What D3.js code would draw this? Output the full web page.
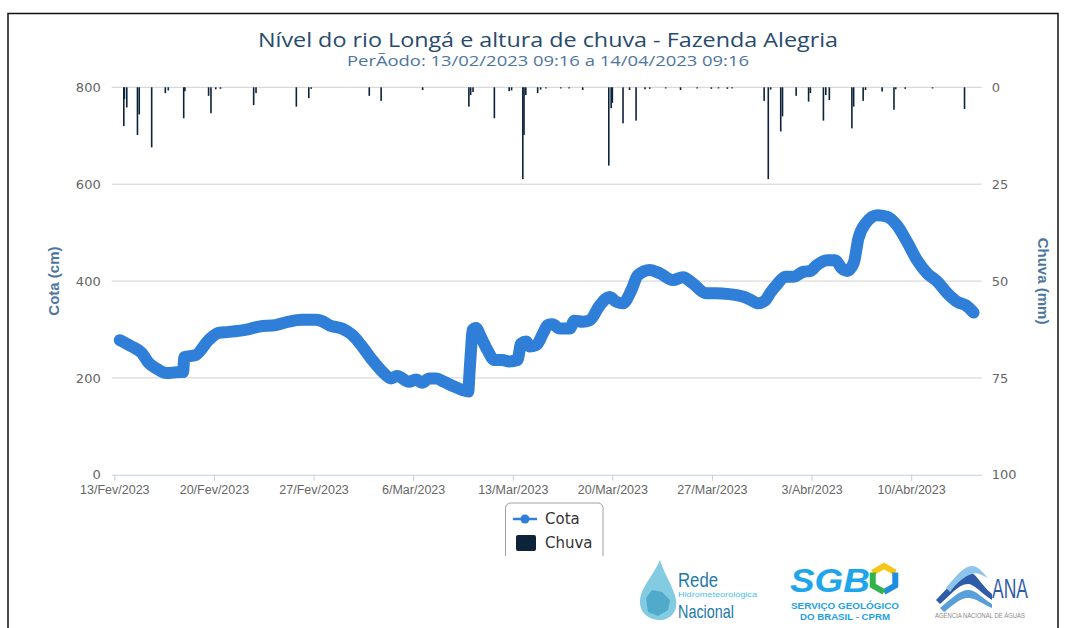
<!DOCTYPE html>
<html>
<head>
<meta charset="utf-8">
<script src="https://cdn.jsdelivr.net/npm/d3@7"></script>
<style>
  body { margin: 0; background: #fff; }
  svg { display: block; }
</style>
</head>
<body>
<div id="chart"></div>
<script>
// ---- data ----
const TITLE = "Nível do rio Longá e altura de chuva - Fazenda Alegria";
const SUBTITLE = "PerÃodo: 13/02/2023 09:16 a 14/04/2023 09:16";
const PERIOD = ["2023-02-13 09:16", "2023-04-14 09:16"];

// river level (cm)
const cotaData = [
  ["2023-02-13 09:16", 278], ["2023-02-14 05:00", 265], ["2023-02-14 22:00", 252],
  ["2023-02-15 10:00", 231], ["2023-02-15 21:00", 221], ["2023-02-16 16:00", 210],
  ["2023-02-17 14:00", 212], ["2023-02-17 20:00", 212], ["2023-02-17 22:00", 243],
  ["2023-02-18 17:00", 247], ["2023-02-19 15:00", 278], ["2023-02-20 08:00", 293],
  ["2023-02-21 01:00", 295], ["2023-02-22 11:00", 301], ["2023-02-23 04:00", 306],
  ["2023-02-24 08:00", 309], ["2023-02-25 06:00", 316], ["2023-02-26 04:00", 320],
  ["2023-02-27 04:00", 320], ["2023-02-27 21:00", 313], ["2023-02-28 02:00", 309],
  ["2023-03-01 00:00", 302], ["2023-03-01 17:00", 289], ["2023-03-02 10:00", 265],
  ["2023-03-03 03:00", 237], ["2023-03-03 20:00", 213], ["2023-03-04 11:00", 199],
  ["2023-03-04 21:00", 204], ["2023-03-05 17:00", 192], ["2023-03-06 05:00", 197],
  ["2023-03-06 15:00", 190], ["2023-03-07 03:00", 199], ["2023-03-07 15:00", 199],
  ["2023-03-08 04:00", 192], ["2023-03-08 18:00", 184], ["2023-03-09 11:00", 175],
  ["2023-03-09 21:00", 172], ["2023-03-09 23:00", 210], ["2023-03-10 02:00", 265],
  ["2023-03-10 04:00", 299], ["2023-03-10 10:00", 303], ["2023-03-10 18:00", 285],
  ["2023-03-11 05:00", 258], ["2023-03-11 17:00", 237], ["2023-03-12 06:00", 237],
  ["2023-03-12 18:00", 234], ["2023-03-13 08:00", 237], ["2023-03-13 14:00", 271],
  ["2023-03-13 23:00", 275], ["2023-03-14 04:00", 265], ["2023-03-14 16:00", 268],
  ["2023-03-15 03:00", 292], ["2023-03-15 11:00", 309], ["2023-03-15 19:00", 311],
  ["2023-03-16 07:00", 302], ["2023-03-17 00:00", 302], ["2023-03-17 08:00", 318],
  ["2023-03-17 22:00", 316], ["2023-03-18 10:00", 319], ["2023-03-19 03:00", 350],
  ["2023-03-19 19:00", 367], ["2023-03-20 07:00", 357], ["2023-03-20 18:00", 354],
  ["2023-03-21 08:00", 381], ["2023-03-21 19:00", 412], ["2023-03-22 15:00", 423],
  ["2023-03-23 08:00", 416], ["2023-03-24 06:00", 402], ["2023-03-24 23:00", 408],
  ["2023-03-25 16:00", 395], ["2023-03-26 14:00", 375], ["2023-03-27 07:00", 375],
  ["2023-03-28 05:00", 373], ["2023-03-29 04:00", 368], ["2023-03-29 16:00", 362],
  ["2023-03-30 06:00", 354], ["2023-03-30 18:00", 360], ["2023-03-31 02:00", 375],
  ["2023-03-31 13:00", 392], ["2023-04-01 04:00", 409], ["2023-04-01 17:00", 409],
  ["2023-04-02 10:00", 419], ["2023-04-02 22:00", 421], ["2023-04-03 09:00", 433],
  ["2023-04-04 02:00", 443], ["2023-04-04 16:00", 443], ["2023-04-05 03:00", 426],
  ["2023-04-05 12:00", 421], ["2023-04-05 23:00", 437], ["2023-04-06 07:00", 488],
  ["2023-04-06 19:00", 519], ["2023-04-07 15:00", 536], ["2023-04-08 07:00", 533],
  ["2023-04-09 00:00", 515], ["2023-04-09 17:00", 481], ["2023-04-10 10:00", 443],
  ["2023-04-11 03:00", 416], ["2023-04-11 20:00", 399], ["2023-04-12 13:00", 375],
  ["2023-04-13 06:00", 357], ["2023-04-13 20:00", 350], ["2023-04-14 09:16", 335],
];

// hourly rain (mm), only the hours that had some
const chuvaData = [
  ["2023-02-13 16:00", 10], ["2023-02-13 17:00", 3], ["2023-02-13 21:00", 5.2],
  ["2023-02-14 15:00", 12.3], ["2023-02-14 18:00", 7], ["2023-02-15 15:00", 15.5],
  ["2023-02-16 14:00", 1.5], ["2023-02-16 19:00", 0.8], ["2023-02-17 21:00", 8],
  ["2023-02-17 23:00", 1], ["2023-02-19 15:00", 2.2], ["2023-02-19 19:00", 6.7],
  ["2023-02-20 03:00", 0.5], ["2023-02-20 11:00", 0.4], ["2023-02-22 19:00", 4.6],
  ["2023-02-22 23:00", 1.5], ["2023-02-25 19:00", 5], ["2023-02-26 16:00", 2.8],
  ["2023-02-26 20:00", 0.4], ["2023-03-02 22:00", 2.2], ["2023-03-03 18:00", 3.5],
  ["2023-03-06 16:00", 0.7], ["2023-03-09 22:00", 5], ["2023-03-10 01:00", 2],
  ["2023-03-10 05:00", 1.2], ["2023-03-11 17:00", 8], ["2023-03-12 18:00", 1],
  ["2023-03-12 22:00", 0.8], ["2023-03-13 17:00", 23.7], ["2023-03-13 19:00", 12.3],
  ["2023-03-13 22:00", 2], ["2023-03-14 18:00", 1.5], ["2023-03-14 23:00", 0.6],
  ["2023-03-15 08:00", 0.3], ["2023-03-16 09:00", 0.3], ["2023-03-16 23:00", 0.3],
  ["2023-03-17 22:00", 0.7], ["2023-03-19 18:00", 20.2], ["2023-03-19 22:00", 5.4],
  ["2023-03-20 00:00", 4], ["2023-03-20 18:00", 9.3], ["2023-03-21 05:00", 0.7],
  ["2023-03-21 16:00", 8.6], ["2023-03-22 07:00", 0.5], ["2023-03-22 15:00", 0.4],
  ["2023-03-23 18:00", 0.3], ["2023-03-24 19:00", 0.7], ["2023-03-25 23:00", 0.3],
  ["2023-03-26 23:00", 0.4], ["2023-03-27 11:00", 0.3], ["2023-03-28 02:00", 0.4],
  ["2023-03-28 10:00", 0.3], ["2023-03-30 16:00", 3.5], ["2023-03-30 23:00", 23.7],
  ["2023-03-31 03:00", 0.6], ["2023-03-31 20:00", 11.4], ["2023-03-31 23:00", 7.5],
  ["2023-04-01 22:00", 2.2], ["2023-04-02 19:00", 3.7], ["2023-04-02 22:00", 1.5],
  ["2023-04-03 20:00", 8.6], ["2023-04-04 00:00", 2], ["2023-04-04 06:00", 3.3],
  ["2023-04-05 20:00", 10.6], ["2023-04-05 23:00", 5], ["2023-04-06 15:00", 3.5],
  ["2023-04-06 19:00", 0.7], ["2023-04-07 23:00", 1.1], ["2023-04-08 19:00", 5.8],
  ["2023-04-08 22:00", 0.5], ["2023-04-09 14:00", 0.4], ["2023-04-11 12:00", 0.3],
  ["2023-04-13 18:00", 5.6],
];

const xTickDates = ["2023-02-13", "2023-02-20", "2023-02-27", "2023-03-06", "2023-03-13",
                    "2023-03-20", "2023-03-27", "2023-04-03", "2023-04-10"];
const xTickLabels = ["13/Fev/2023", "20/Fev/2023", "27/Fev/2023", "6/Mar/2023", "13/Mar/2023",
                     "20/Mar/2023", "27/Mar/2023", "3/Abr/2023", "10/Abr/2023"];
const cotaTicks = [0, 200, 400, 600, 800];
const chuvaTicks = [0, 25, 50, 75, 100];

const COLOR = {
  cota: "#2f7ed8",
  chuva: "#0d233a",
  title: "#274b6d",
  subtitle: "#4d759e",
  axisTitle: "#4d759e",
  label: "#666",
  grid: "#d0d0d0",
  axisLine: "#c0d0e0",
};

// ---- layout ----
const width = 1067, height = 628;
const plot = { left: 111.7, right: 981.7, top: 87.3, bottom: 474.8 };

const parse = d3.timeParse("%Y-%m-%d %H:%M");
const parseDay = d3.timeParse("%Y-%m-%d");
const PAD = 13.7 * 3600 * 1000; // column padding on both ends of the period

const x = d3.scaleTime()
  .domain([+parse(PERIOD[0]) - PAD, +parse(PERIOD[1]) + PAD])
  .range([plot.left, plot.right]);
const yCota = d3.scaleLinear().domain([0, 800]).range([plot.bottom, plot.top]);
const yChuva = d3.scaleLinear().domain([0, 100]).range([plot.top, plot.bottom]); // reversed

const svg = d3.select("#chart").append("svg")
  .attr("width", width).attr("height", height)
  .attr("viewBox", `0 0 ${width} ${height}`);

// outer frame
svg.append("path")
  .attr("d", "M8,640 V13.5 H1058 V640")
  .attr("fill", "none").attr("stroke", "#111").attr("stroke-width", 1.5);

// ---- title ----
svg.append("text")
  .attr("x", 548).attr("y", 47)
  .attr("text-anchor", "middle")
  .attr("font-family", "Open Sans, sans-serif").attr("font-size", 20)
  .attr("textLength", 580).attr("lengthAdjust", "spacingAndGlyphs")
  .attr("fill", COLOR.title)
  .text(TITLE);
svg.append("text")
  .attr("x", 548).attr("y", 66)
  .attr("text-anchor", "middle")
  .attr("font-family", "Open Sans, sans-serif").attr("font-size", 14)
  .attr("textLength", 402).attr("lengthAdjust", "spacingAndGlyphs")
  .attr("fill", COLOR.subtitle)
  .text(SUBTITLE);

// ---- grid + axes ----
svg.append("g")
  .selectAll("line")
  .data(cotaTicks.filter((t) => t > 0))
  .join("line")
  .attr("x1", plot.left).attr("x2", plot.right)
  .attr("y1", (t) => yCota(t)).attr("y2", (t) => yCota(t))
  .attr("stroke", COLOR.grid).attr("stroke-width", 1);

const xAxis = svg.append("g")
  .attr("transform", `translate(0,${plot.bottom})`)
  .call(d3.axisBottom(x)
    .tickValues(xTickDates.map(parseDay))
    .tickFormat((d, i) => xTickLabels[i])
    .tickSizeInner(6).tickSizeOuter(0).tickPadding(4));
xAxis.select(".domain").attr("stroke", COLOR.axisLine);
xAxis.selectAll(".tick line").attr("stroke", COLOR.axisLine);
xAxis.selectAll(".tick text")
  .attr("fill", COLOR.label)
  .attr("font-family", "Liberation Sans, Arial, sans-serif")
  .attr("font-size", 12.5);

const yLeft = svg.append("g")
  .attr("transform", `translate(${plot.left},0)`)
  .call(d3.axisLeft(yCota).tickValues(cotaTicks).tickSize(0).tickPadding(11));
yLeft.select(".domain").remove();
yLeft.selectAll(".tick text")
  .attr("fill", COLOR.label)
  .attr("font-family", "DejaVu Sans, Verdana, sans-serif")
  .attr("font-size", 13);

const yRight = svg.append("g")
  .attr("transform", `translate(${plot.right},0)`)
  .call(d3.axisRight(yChuva).tickValues(chuvaTicks).tickSize(0).tickPadding(10));
yRight.select(".domain").remove();
yRight.selectAll(".tick text")
  .attr("fill", COLOR.label)
  .attr("font-family", "DejaVu Sans, Verdana, sans-serif")
  .attr("font-size", 13);

svg.append("text")
  .attr("transform", `translate(59,${(plot.top + plot.bottom) / 2}) rotate(-90)`)
  .attr("text-anchor", "middle")
  .attr("font-family", "Liberation Sans, Arial, sans-serif")
  .attr("font-size", 15).attr("font-weight", 700)
  .attr("fill", COLOR.axisTitle)
  .text("Cota (cm)");
svg.append("text")
  .attr("transform", `translate(1038,${(plot.top + plot.bottom) / 2}) rotate(90)`)
  .attr("text-anchor", "middle")
  .attr("font-family", "Liberation Sans, Arial, sans-serif")
  .attr("font-size", 15).attr("font-weight", 700)
  .attr("fill", COLOR.axisTitle)
  .text("Chuva (mm)");

// ---- rain columns, hanging from the top ----
svg.append("g")
  .selectAll("rect")
  .data(chuvaData)
  .join("rect")
  .attr("x", (d) => x(parse(d[0])) - 0.8)
  .attr("width", 1.6)
  .attr("y", yChuva(0))
  .attr("height", (d) => Math.max(1, yChuva(d[1]) - yChuva(0)))
  .attr("fill", COLOR.chuva);

// ---- river level: dense markers drawn as one thick band ----
const line = d3.line()
  .x((d) => x(parse(d[0])))
  .y((d) => yCota(d[1]))
  .curve(d3.curveMonotoneX);
svg.append("path")
  .datum(cotaData)
  .attr("d", line)
  .attr("fill", "none")
  .attr("stroke", COLOR.cota)
  .attr("stroke-width", 12)
  .attr("stroke-linecap", "round")
  .attr("stroke-linejoin", "round");

// ---- legend ----
const lg = svg.append("g");
lg.append("path")
  .attr("d", "M505.5,556 V508 a5,5 0 0 1 5,-5 H598 a5,5 0 0 1 5,5 V556")
  .attr("fill", "none").attr("stroke", "#a0a0a0").attr("stroke-width", 1);
lg.append("line")
  .attr("x1", 513).attr("x2", 537).attr("y1", 519).attr("y2", 519)
  .attr("stroke", COLOR.cota).attr("stroke-width", 2.5);
lg.append("circle").attr("cx", 525).attr("cy", 519).attr("r", 4.5).attr("fill", COLOR.cota);
lg.append("rect")
  .attr("x", 516).attr("y", 535).attr("width", 20).attr("height", 16).attr("rx", 2)
  .attr("fill", COLOR.chuva);
lg.selectAll("text.item")
  .data(["Cota", "Chuva"])
  .join("text")
  .attr("x", 545).attr("y", (d, i) => 524 + i * 24)
  .attr("font-family", "DejaVu Sans, Verdana, sans-serif")
  .attr("font-size", 15)
  .attr("fill", "#333")
  .text((d) => d);

// ---- institutional logos (simplified) ----
const logos = svg.append("g");

// Rede Hidrometeorológica Nacional
logos.append("path")
  .attr("d", "M660,560 C652,578 640,588 640,602 C640,614 650,620 660,620 C670,620 678,612 676,600 C674,588 666,578 660,560 Z")
  .attr("fill", "#6cc2dc").attr("opacity", 0.85);
logos.append("path")
  .attr("d", "M646,598 L652,590 L662,592 L670,600 L668,610 L658,616 L648,612 Z")
  .attr("fill", "#3a9bbf").attr("opacity", 0.7);
logos.append("text").attr("x", 678).attr("y", 587)
  .attr("font-family", "Liberation Sans, Arial, sans-serif").attr("font-size", 20)
  .attr("textLength", 40).attr("lengthAdjust", "spacingAndGlyphs")
  .attr("fill", "#2379a8").text("Rede");
logos.append("text").attr("x", 678).attr("y", 597)
  .attr("font-family", "Liberation Sans, Arial, sans-serif").attr("font-size", 8)
  .attr("textLength", 79).attr("lengthAdjust", "spacingAndGlyphs")
  .attr("fill", "#4cc0ee").text("Hidrometeorológica");
logos.append("text").attr("x", 678).attr("y", 618)
  .attr("font-family", "Liberation Sans, Arial, sans-serif").attr("font-size", 19)
  .attr("textLength", 56).attr("lengthAdjust", "spacingAndGlyphs")
  .attr("fill", "#2379a8").text("Nacional");

// SGB
logos.append("text").attr("x", 790).attr("y", 592)
  .attr("font-family", "Liberation Sans, Arial, sans-serif").attr("font-size", 34)
  .attr("font-weight", 700).attr("font-style", "italic")
  .attr("textLength", 80).attr("lengthAdjust", "spacingAndGlyphs")
  .attr("fill", "#1ea5ea").text("SGB");
const hx = 884, hy = 579, hr = 13;
const hexPts = d3.range(6).map((i) => {
  const a = Math.PI / 3 * i - Math.PI / 2;
  return [hx + hr * Math.cos(a), hy + hr * Math.sin(a)];
});
logos.append("path")
  .attr("d", `M${hexPts[5]} L${hexPts[0]} L${hexPts[1]}`)
  .attr("fill", "none").attr("stroke", "#f5c518").attr("stroke-width", 6);
logos.append("path")
  .attr("d", `M${hexPts[1]} L${hexPts[2]} L${hexPts[3]}`)
  .attr("fill", "none").attr("stroke", "#1e8fe0").attr("stroke-width", 6);
logos.append("path")
  .attr("d", `M${hexPts[3]} L${hexPts[4]} L${hexPts[5]}`)
  .attr("fill", "none").attr("stroke", "#2fb34a").attr("stroke-width", 6);
logos.append("text").attr("x", 845).attr("y", 609).attr("text-anchor", "middle")
  .attr("font-family", "Liberation Sans, Arial, sans-serif").attr("font-size", 8.5)
  .attr("font-weight", 700).attr("textLength", 108).attr("lengthAdjust", "spacingAndGlyphs")
  .attr("fill", "#1e9fe6").text("SERVIÇO GEOLÓGICO");
logos.append("text").attr("x", 845).attr("y", 619.5).attr("text-anchor", "middle")
  .attr("font-family", "Liberation Sans, Arial, sans-serif").attr("font-size", 8.5)
  .attr("font-weight", 700).attr("textLength", 90).attr("lengthAdjust", "spacingAndGlyphs")
  .attr("fill", "#1e9fe6").text("DO BRASIL - CPRM");

// ANA
logos.append("path")
  .attr("d", "M936,600 C950,586 958,574 968,572 C976,572 980,584 992,594 L992,600 C980,592 974,584 968,584 C958,584 950,596 940,604 Z")
  .attr("fill", "#2e5ca8");
logos.append("path")
  .attr("d", "M940,608 C952,598 960,590 968,590 C976,590 982,598 992,604 L992,608 C982,604 976,598 968,598 C960,598 952,606 944,612 Z")
  .attr("fill", "#5aa0d8");
logos.append("path")
  .attr("d", "M946,588 C956,576 964,566 972,566 C978,566 982,572 988,578 C980,574 976,572 972,574 C964,576 956,584 950,592 Z")
  .attr("fill", "#8cc4ea");
logos.append("text").attr("x", 992).attr("y", 598)
  .attr("font-family", "Liberation Sans, Arial, sans-serif").attr("font-size", 27)
  .attr("textLength", 36).attr("lengthAdjust", "spacingAndGlyphs")
  .attr("fill", "#2e5ca8").text("ANA");
logos.append("text").attr("x", 980).attr("y", 618)
  .attr("text-anchor", "middle")
  .attr("font-family", "Liberation Sans, Arial, sans-serif").attr("font-size", 7)
  .attr("textLength", 90).attr("lengthAdjust", "spacingAndGlyphs")
  .attr("fill", "#8a8a8a").text("AGÊNCIA NACIONAL DE ÁGUAS");
</script>
</body>
</html>
